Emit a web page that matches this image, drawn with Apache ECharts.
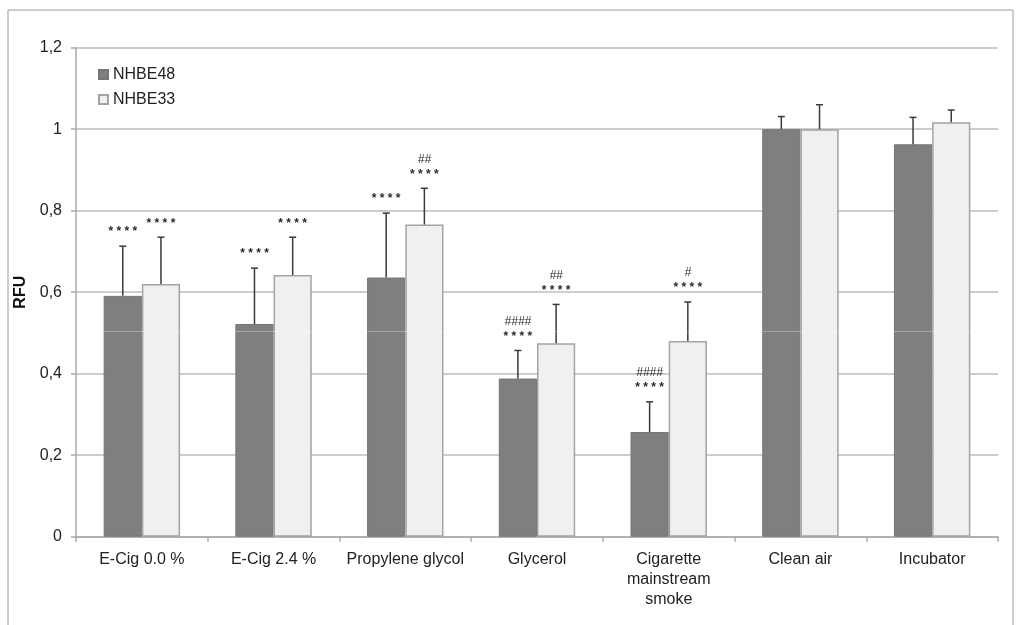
<!DOCTYPE html>
<html>
<head>
<meta charset="utf-8">
<script src="https://cdn.jsdelivr.net/npm/echarts@6/dist/echarts.min.js"></script>
<style>
html,body{margin:0;padding:0;background:#fff;}
#chart{width:1024px;height:625px;}
</style>
</head>
<body>
<div id="chart"></div>
<script>
const categories = ['E-Cig 0.0 %','E-Cig 2.4 %','Propylene glycol','Glycerol','Cigarette\nmainstream\nsmoke','Clean air','Incubator'];
const yTicks = [0, 0.2, 0.4, 0.6, 0.8, 1, 1.2];
const nhbe48 = [0.591, 0.522, 0.636, 0.388, 0.257, 1.000, 0.963];
const nhbe48Err = [0.122, 0.137, 0.158, 0.069, 0.074, 0.031, 0.066];
const nhbe33 = [0.620, 0.642, 0.766, 0.475, 0.480, 1.000, 1.017];
const nhbe33Err = [0.115, 0.093, 0.089, 0.095, 0.096, 0.060, 0.030];
const stars48 = ['****','****','****','****','****','',''];
const hash48 = ['','','','####','####','',''];
const stars33 = ['****','****','****','****','****','',''];
const hash33 = ['','','##','##','#','',''];

const chart = echarts.init(document.getElementById('chart'), null, {renderer:'canvas'});
const FONT = 'Liberation Sans, Arial, Helvetica, sans-serif';

function errSeries(values, errs, stars, hashes, offsetFrac, name){
  const data = values.map((v,i)=>[i, v, errs[i], stars[i], hashes[i]]);
  return {
    type:'custom',
    name: name,
    data: data,
    z: 5,
    silent: true,
    renderItem: function(params, api){
      const i = api.value(0), v = api.value(1), e = api.value(2);
      const s = data[params.dataIndex][3], h = data[params.dataIndex][4];
      const base = api.coord([i, v]);
      const top = api.coord([i, v + e]);
      const bw = api.size([1, 0])[0];
      const x = base[0] + offsetFrac * bw;
      const children = [
        {type:'line', shape:{x1:x, y1:base[1], x2:x, y2:top[1]}, style:{stroke:'#3a3a3a', lineWidth:1.5}},
        {type:'line', shape:{x1:x-3.5, y1:top[1], x2:x+3.5, y2:top[1]}, style:{stroke:'#3a3a3a', lineWidth:1.5}}
      ];
      if (s) children.push({type:'text', style:{text:s.split('').join(' '), x:x, y:top[1]-14, align:'center', verticalAlign:'middle', fill:'#2a2a2a', font:'bold 12px '+FONT}});
      if (h) children.push({type:'text', style:{text:h, x:x, y:top[1]-29, align:'center', verticalAlign:'middle', fill:'#2a2a2a', font:'italic 12px '+FONT}});
      return {type:'group', children: children};
    }
  };
}

const option = {
  backgroundColor:'#fff',
  animation:false,
  graphic:[
    {type:'rect', shape:{x:8, y:10, width:1005, height:640}, style:{fill:'none', stroke:'#9a9a9a', lineWidth:1}, z:-10},
    {type:'line', shape:{x1:77, y1:331.5, x2:997, y2:331.5}, style:{stroke:'rgba(255,255,255,0.3)', lineWidth:1}, z:100}
  ],
  grid:{left:76, right:26, top:47.7, bottom:88.3, containLabel:false},
  legend:{
    orient:'vertical', left:93, top:61,
    itemWidth:9, itemHeight:9, itemGap:8,
    icon:'rect',
    data:['NHBE48','NHBE33'],
    textStyle:{fontSize:16, fontFamily:FONT, color:'#222', lineHeight:17}
  },
  xAxis:{
    type:'category',
    data:categories,
    axisLine:{lineStyle:{color:'#a8a8a8', width:1.5}},
    axisTick:{show:true, length:5, lineStyle:{color:'#a8a8a8', width:1.5}},
    axisLabel:{fontSize:16, fontFamily:FONT, color:'#222', margin:13, lineHeight:20, interval:0}
  },
  yAxis:{
    type:'value', min:0, max:1.2, interval:0.2,
    name:'RFU', nameLocation:'middle', nameGap:45, nameRotate:90,
    nameTextStyle:{fontSize:16, fontWeight:'bold', fontFamily:FONT, color:'#111'},
    axisLine:{show:true, lineStyle:{color:'#a8a8a8', width:1.5}},
    axisTick:{show:true, length:5, lineStyle:{color:'#a8a8a8', width:1.5}},
    splitLine:{lineStyle:{color:'#bdbdbd', width:1.5}},
    axisLabel:{fontSize:16, fontFamily:FONT, color:'#222', margin:14,
      formatter:function(v){ const t = yTicks.find(x=>Math.abs(x-v)<1e-6); return String(Math.round((t===undefined?v:t)*10)/10).replace('.', ','); }}
  },
  series:[
    {name:'NHBE48', type:'bar', data:nhbe48, barWidth:'29%', barGap:'0%',
      itemStyle:{color:'#7f7f7f', borderColor:'#767676', borderWidth:1}},
    {name:'NHBE33', type:'bar', data:nhbe33, barWidth:'29%', barGap:'0%',
      itemStyle:{color:'#f0f0f0', borderColor:'#a3a3a3', borderWidth:1.5}},
    errSeries(nhbe48, nhbe48Err, stars48, hash48, -0.145, 'err48'),
    errSeries(nhbe33, nhbe33Err, stars33, hash33, 0.145, 'err33')
  ]
};
chart.setOption(option);
</script>
</body>
</html>
